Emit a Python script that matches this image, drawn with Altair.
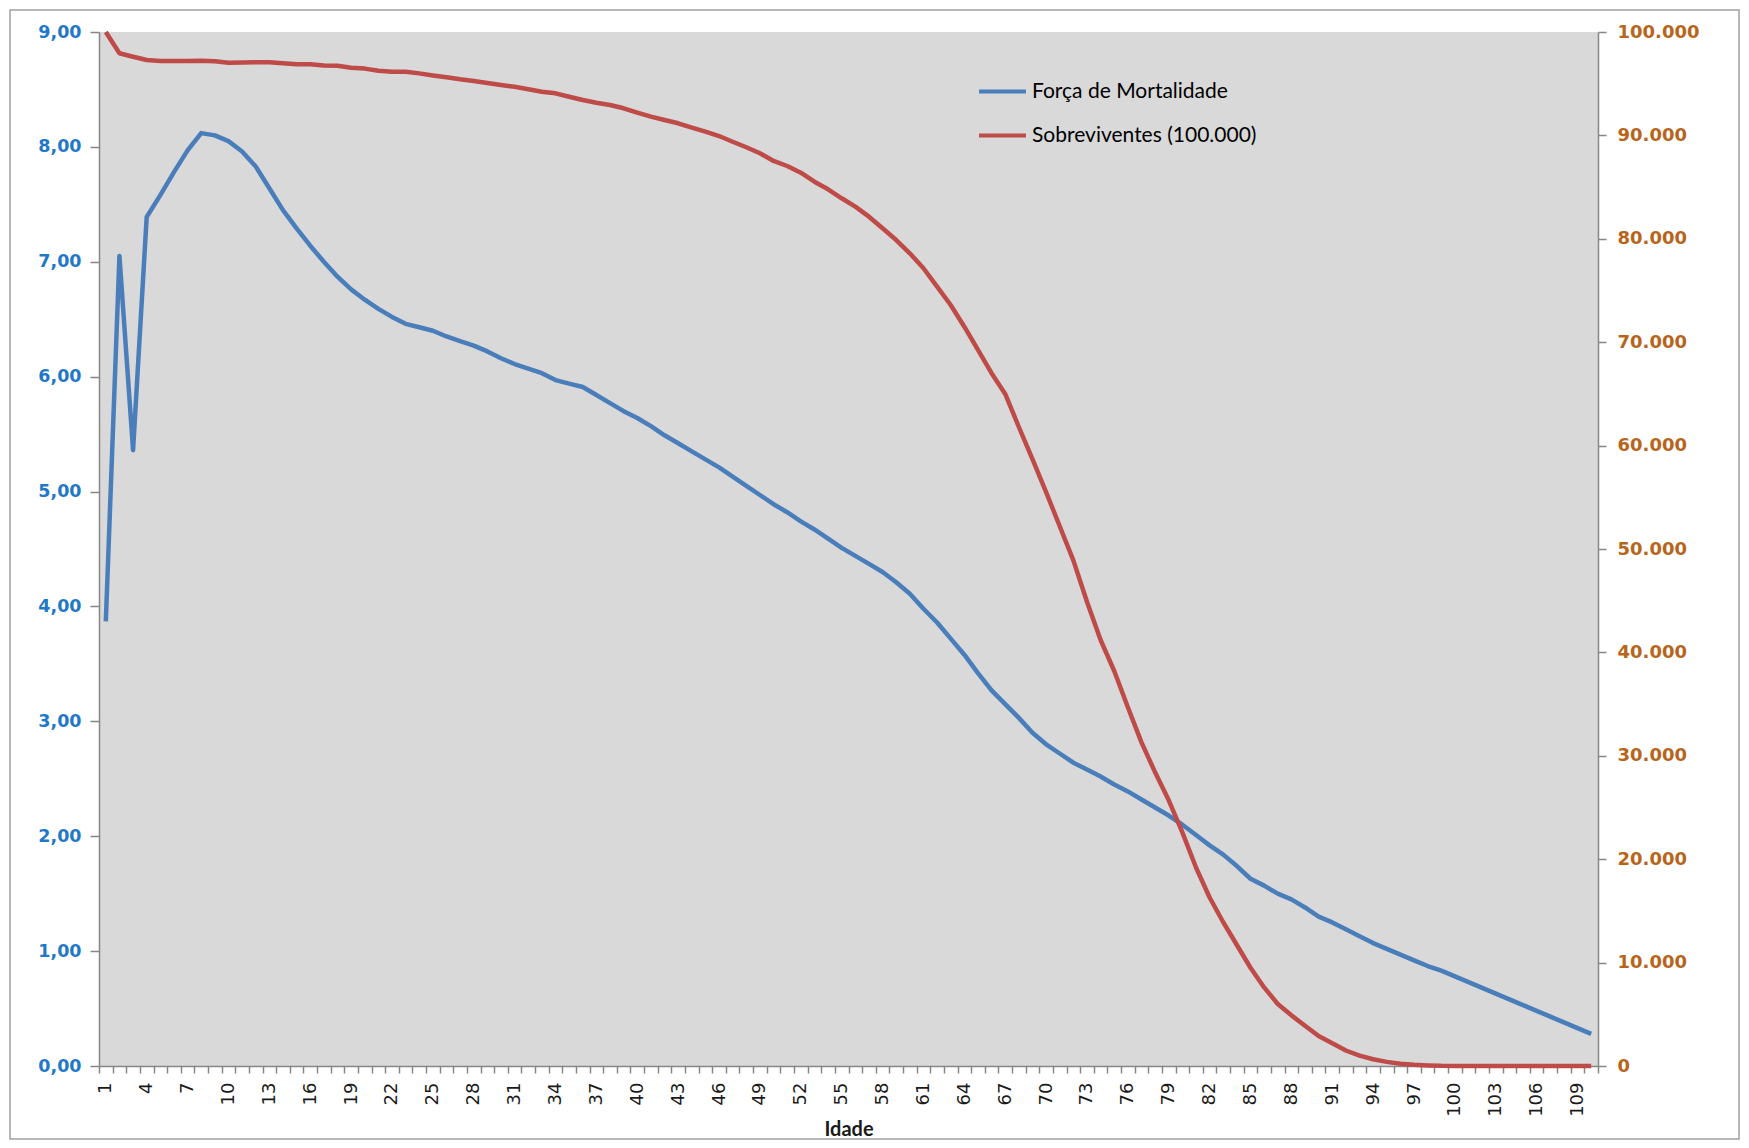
import altair as alt
import pandas as pd

idade = list(range(1, 111))

forca = [
    3.87, 7.05, 5.36, 7.39, 7.58, 7.78, 7.97, 8.12, 8.10, 8.05,
    7.96, 7.83, 7.64, 7.45, 7.29, 7.14, 7.00, 6.87, 6.76, 6.67,
    6.59, 6.52, 6.46, 6.43, 6.40, 6.35, 6.31, 6.27, 6.22, 6.16,
    6.11, 6.07, 6.03, 5.97, 5.94, 5.91, 5.84, 5.77, 5.70, 5.64,
    5.57, 5.49, 5.42, 5.35, 5.28, 5.21, 5.13, 5.05, 4.97, 4.89,
    4.82, 4.74, 4.67, 4.59, 4.51, 4.44, 4.37, 4.30, 4.21, 4.11,
    3.98, 3.86, 3.72, 3.58, 3.42, 3.27, 3.15, 3.03, 2.90, 2.80,
    2.72, 2.64, 2.58, 2.52, 2.45, 2.39, 2.32, 2.25, 2.18, 2.10,
    2.01, 1.92, 1.84, 1.74, 1.63, 1.57, 1.50, 1.45, 1.38, 1.30,
    1.25, 1.19, 1.13, 1.07, 1.02, 0.97, 0.92, 0.87, 0.83, 0.78,
    0.73, 0.68, 0.63, 0.58, 0.53, 0.48, 0.43, 0.38, 0.33, 0.28,
]

sobreviventes = [
    100000, 97940, 97610, 97290, 97200, 97200, 97200, 97230, 97170, 97030,
    97050, 97080, 97080, 96970, 96880, 96880, 96760, 96730, 96550, 96460,
    96260, 96160, 96160, 96000, 95800, 95620, 95430, 95270, 95070, 94880,
    94700, 94460, 94230, 94070, 93740, 93420, 93160, 92940, 92620, 92200,
    91810, 91490, 91170, 90750, 90360, 89940, 89390, 88850, 88270, 87530,
    87040, 86390, 85520, 84790, 83920, 83110, 82140, 81020, 79880, 78600,
    77150, 75370, 73600, 71500, 69250, 67000, 65000, 61800, 58700, 55500,
    52200, 48900, 44900, 41200, 38200, 34700, 31300, 28400, 25700, 22600,
    19200, 16300, 13900, 11700, 9500, 7600, 6000, 4900, 3900, 2900,
    2200, 1500, 1000, 650, 400, 220, 120, 60, 20, 10,
    5, 3, 2, 1, 0, 0, 0, 0, 0, 0,
]

series = ["Força de Mortalidade", "Sobreviventes (100.000)"]
series_colors = ["#4A7EBB", "#BE4B48"]
left_ticks = [0, 1, 2, 3, 4, 5, 6, 7, 8, 9]
right_ticks = [0, 10000, 20000, 30000, 40000, 50000, 60000, 70000, 80000, 90000, 100000]

df = pd.DataFrame({"idade": idade, "forca": forca, "sobrev": sobreviventes})

W, H = 1499, 1034
PAD = {"left": 91, "top": 24, "right": 143, "bottom": 74}
AXIS_GRAY = "#868686"

color = alt.Color(
    "serie:N",
    scale=alt.Scale(domain=series, range=series_colors),
    legend=alt.Legend(
        title=None,
        orient="none",
        legendX=878,
        legendY=34,
        padding=0,
        symbolType="stroke",
        symbolSize=2209,
        symbolStrokeWidth=4,
        labelFont="Lato",
        labelFontSize=21,
        labelColor="#000000",
        labelOffset=4,
        labelLimit=400,
        rowPadding=8,
    ),
)

x_enc = alt.X(
    "idade:O",
    bandPosition=0.5,
    scale=alt.Scale(type="band", paddingInner=0, paddingOuter=0),
    axis=alt.Axis(
        title="Idade",
        tickBand="extent",
        labelAngle=-90,
        labelExpr="(datum.value - 1) % 3 == 0 ? datum.label : ''",
        labelOverlap=False,
        labelFont="DejaVu Sans",
        labelFontSize=18,
        labelColor="#1a1a1a",
        labelPadding=9,
        tickSize=7,
        tickColor=AXIS_GRAY,
        tickWidth=1.5,
        domainColor=AXIS_GRAY,
        domainWidth=1.5,
        titleFont="Lato",
        titleFontSize=20,
        titleFontWeight="bold",
        titleColor="#1a1a1a",
        titlePadding=3,
        grid=False,
    ),
)

base = alt.Chart(df)

blue = base.transform_calculate(serie="'Força de Mortalidade'").mark_line(
    strokeWidth=4.5, strokeJoin="round"
).encode(
    x=x_enc,
    y=alt.Y(
        "forca:Q",
        scale=alt.Scale(domain=[0, 9], nice=False, zero=True),
        axis=alt.Axis(
            title=None,
            orient="left",
            values=left_ticks,
            labelExpr="replace(format(datum.value, '.2f'), '.', ',')",
            labelFont="DejaVu Sans",
            labelFontSize=17.5,
            labelFontWeight="bold",
            labelColor="#1F78C8",
            labelPadding=9,
            tickSize=9,
            tickColor=AXIS_GRAY,
            tickWidth=1.5,
            domainColor=AXIS_GRAY,
            domainWidth=1.5,
            grid=False,
        ),
    ),
    color=color,
)

red = base.transform_calculate(serie="'Sobreviventes (100.000)'").mark_line(
    strokeWidth=4.5, strokeJoin="round"
).encode(
    x=x_enc,
    y=alt.Y(
        "sobrev:Q",
        scale=alt.Scale(domain=[0, 100000], nice=False, zero=True),
        axis=alt.Axis(
            title=None,
            orient="right",
            values=right_ticks,
            labelExpr="replace(format(datum.value, ',.0f'), ',', '.')",
            labelFont="DejaVu Sans",
            labelFontSize=18,
            labelFontWeight="bold",
            labelColor="#B8651B",
            labelPadding=11,
            tickSize=8,
            tickColor=AXIS_GRAY,
            tickWidth=1.5,
            domainColor=AXIS_GRAY,
            domainWidth=1.5,
            grid=False,
        ),
    ),
    color=color,
)

frame = alt.Chart(pd.DataFrame({"f": [0]})).mark_rect(
    filled=False, stroke="#A0A0A0", strokeWidth=1.5
).encode(
    x=alt.value(-89),
    x2=alt.value(W + PAD["right"] - 2),
    y=alt.value(-22),
    y2=alt.value(H + PAD["bottom"] - 1),
)

chart = (
    alt.layer(frame, blue, red)
    .resolve_scale(y="independent")
    .properties(
        width=W,
        height=H,
        autosize=alt.AutoSizeParams(type="none"),
        padding=PAD,
        background="#FFFFFF",
    )
    .configure_view(fill="#D9D9D9", stroke=None)
)

chart.save("out.html", embed_options={"renderer": "svg", "actions": False})
